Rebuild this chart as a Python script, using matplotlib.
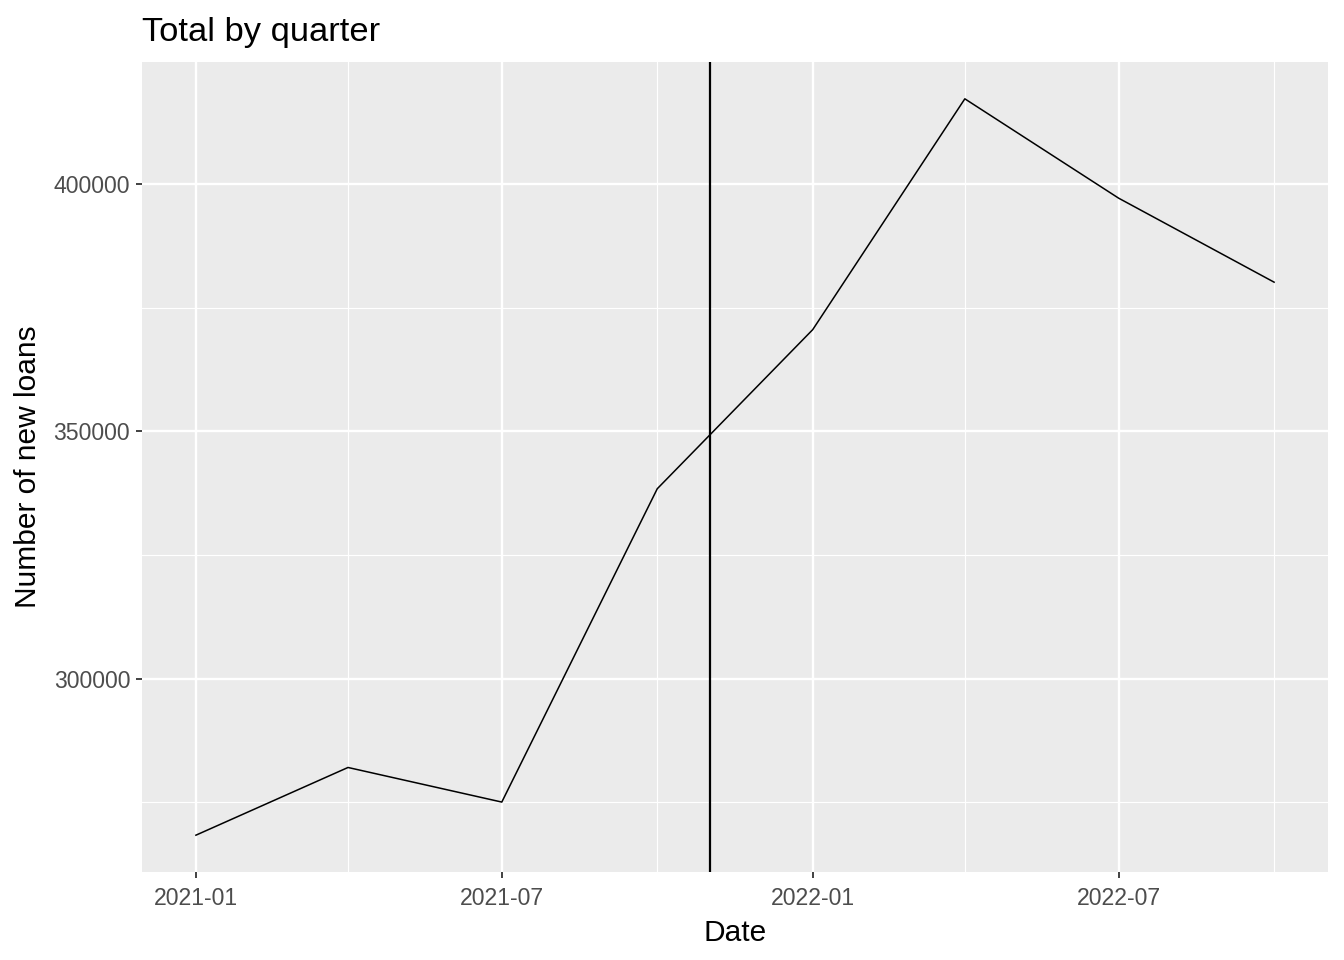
import numpy as np
import pandas as pd
import matplotlib
matplotlib.use('Agg')
import matplotlib.pyplot as plt
import matplotlib.dates as mdates

# quarterly totals
dates = pd.to_datetime(['2021-01-01', '2021-04-01', '2021-07-01', '2021-10-01',
                        '2022-01-01', '2022-04-01', '2022-07-01', '2022-10-01'])
loans = [268300, 282000, 275000, 338400, 370600, 417300, 397200, 380200]
vline_date = pd.Timestamp('2021-11-01')

major_ticks = pd.to_datetime(['2021-01-01', '2021-07-01', '2022-01-01', '2022-07-01'])
minor_ticks = pd.to_datetime(['2021-04-01', '2021-10-01', '2022-04-01', '2022-10-01'])
y_major = [300000, 350000, 400000]
y_minor = [275000, 325000, 375000]

plt.rcParams['font.family'] = ['Liberation Sans', 'DejaVu Sans']

fig = plt.figure(figsize=(13.44, 9.6), dpi=100)
ax = fig.add_axes([142/1344, 1 - 872/960, (1328-142)/1344, (872-62)/960])
ax.set_facecolor('#EBEBEB')

# x limits with 5% expansion like ggplot
x0 = mdates.date2num(dates[0]); x1 = mdates.date2num(dates[-1])
dx = (x1 - x0) * 0.05
ax.set_xlim(x0 - dx, x1 + dx)
y0 = min(loans); y1 = max(loans)
dy = (y1 - y0) * 0.05
ax.set_ylim(y0 - dy, y1 + dy)

ax.set_xticks(mdates.date2num(major_ticks))
ax.set_xticklabels([d.strftime('%Y-%m') for d in major_ticks])
ax.set_xticks(mdates.date2num(minor_ticks), minor=True)
ax.set_yticks(y_major)
ax.set_yticklabels([str(v) for v in y_major])
ax.set_yticks(y_minor, minor=True)

ax.grid(which='major', color='white', linewidth=1.7)
ax.grid(which='minor', color='white', linewidth=0.85)
ax.set_axisbelow(True)
for s in ax.spines.values():
    s.set_visible(False)

ax.tick_params(which='major', length=4.5, width=1.3, color='#333333', labelcolor='#4D4D4D', labelsize=16.6, pad=4)
ax.tick_params(axis='x', which='major', pad=6.5)
ax.tick_params(which='minor', length=0)

ax.plot(mdates.date2num(dates), loans, color='black', linewidth=1.1)
ax.axvline(mdates.date2num(vline_date), color='black', linewidth=1.6)

ax.set_xlabel('Date', fontsize=21.5, labelpad=6)
ax.set_ylabel('Number of new loans', fontsize=21.5, labelpad=8)
ax.set_title('Total by quarter', fontsize=24.8, loc='left', pad=15)

fig.savefig('out.png', dpi=100)
